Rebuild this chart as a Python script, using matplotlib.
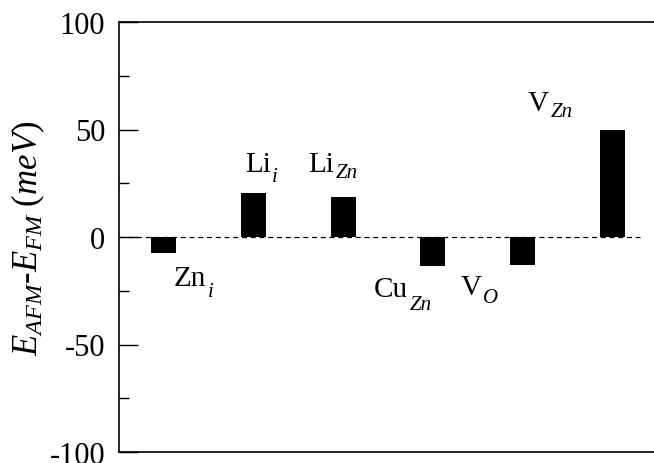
import matplotlib
matplotlib.use("Agg")
import matplotlib.pyplot as plt
from matplotlib.ticker import MultipleLocator

plt.rcParams['font.family'] = 'Liberation Serif'
plt.rcParams['mathtext.fontset'] = 'custom'
plt.rcParams['mathtext.rm'] = 'Liberation Serif'
plt.rcParams['mathtext.it'] = 'Liberation Serif:italic'

# data
names = ['Zn', 'Li', 'Li', 'Cu', 'V', 'V']
subs = ['i', 'i', 'Zn', 'Zn', 'O', 'Zn']
energy = [-7.3, 20.4, 18.5, -13.5, -13.0, 50.0]
yticks = [-100, -50, 0, 50, 100]
ytick_labels = ['-100', '-50', '0', '50', '100']

# label placement (data coords of left baseline) and subscript drop (points)
label_x = [1.114, 1.906, 2.61, 3.346, 4.306, 5.06]
label_y = [-22.5, 30.8, 30.8, -27.5, -26.7, 59.0]
sub_drop = [8, 8, 5, 10, 6, 5]

fig = plt.figure(figsize=(6.54, 4.64), dpi=100)
ax = fig.add_axes([119 / 654, 11 / 464, 538 / 654, 430 / 464])

xs = range(1, len(energy) + 1)
ax.bar(xs, energy, width=0.28, color='black')
ax.hlines(0, 0.5, 6.31, colors='black', linestyles=(0, (4, 3)), lw=0.9)

for name, sub, x, y, d in zip(names, subs, label_x, label_y, sub_drop):
    t = ax.text(x, y, name, fontsize=21, ha='left', va='baseline')
    ax.annotate(sub, xy=(1, 0), xycoords=t, xytext=(1, -d + 5),
                textcoords='offset points', fontsize=15, style='italic',
                ha='left', va='baseline')

ax.set_xlim(0.5, 6.5)
ax.set_ylim(-100, 100)
ax.set_xticks([])
ax.set_yticks(yticks)
ax.set_yticklabels(ytick_labels)
ax.yaxis.set_minor_locator(MultipleLocator(25))
ax.tick_params(axis='y', which='major', direction='in', length=14, width=1, labelsize=22, pad=10)
ax.tick_params(axis='y', which='minor', direction='in', length=7, width=1)
ax.spines['right'].set_visible(False)
for s in ['left', 'top', 'bottom']:
    ax.spines[s].set_linewidth(1.2)

ax.set_ylabel(r'$E_{AFM}$-$E_{FM}$ $(meV)$', fontsize=25, labelpad=2)

fig.savefig('out.png', dpi=100)
